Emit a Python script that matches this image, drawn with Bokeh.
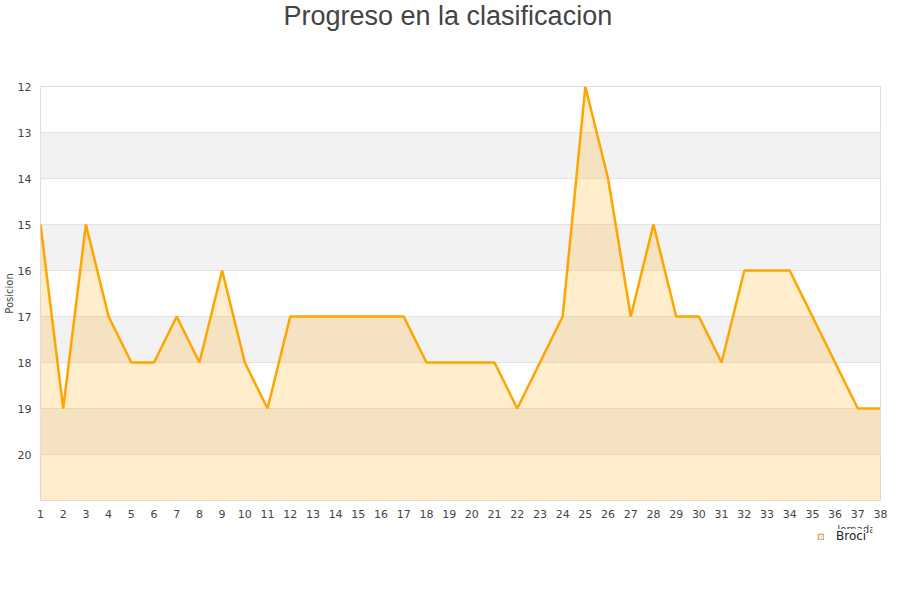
from bokeh.plotting import figure
from bokeh.layouts import column
from bokeh.models import Range1d, FixedTicker, Legend, LegendItem, ColumnDataSource, Title, Label
from bokeh.embed import file_html
from bokeh.resources import INLINE

jornadas = list(range(1, 39))
posicion = [15, 19, 15, 17, 18, 18, 17, 18, 16, 18, 19, 17, 17, 17, 17, 17, 17, 18, 18, 18,
            18, 19, 18, 17, 12, 14, 17, 15, 17, 17, 18, 16, 16, 16, 17, 18, 19, 19]
y_ticks = list(range(12, 21))
band_rows = [13.5, 15.5, 17.5, 19.5]
series_name = "Broci"
title_text = "Progreso en la clasificacion"
y_label = "Posicion"
x_label = "Jornadas"
y_bottom = 21
y_top = 12

p = figure(frame_width=840, frame_height=414, output_backend="svg", toolbar_location=None,
           x_range=Range1d(jornadas[0], jornadas[-1]), y_range=Range1d(y_bottom, y_top),
           min_border_left=32, min_border_right=12, min_border_top=0, min_border_bottom=0)

p.title.text = title_text
p.title.align = "left"
p.title.offset = 243
p.title.text_font = "Liberation Sans"
p.title.text_font_size = "27px"
p.title.text_font_style = "normal"
p.title.text_color = "#444444"
p.title.standoff = 0
p.title.vertical_align = "top"
p.add_layout(Title(text=" ", text_font_size="10px", standoff=41), "above")

p.background_fill_color = "white"
p.border_fill_color = "white"
p.outline_line_color = "#dddddd"

bands = p.hbar(y=band_rows, height=1, left=jornadas[0], right=jornadas[-1],
               fill_color="#f2f2f2", line_color=None)
bands.level = "image"

p.xgrid.grid_line_color = None
p.ygrid.grid_line_color = "#e3e3e3"
p.ygrid.ticker = FixedTicker(ticks=list(range(12, 22)))

src = ColumnDataSource(dict(x=jornadas, y=posicion, y2=[y_bottom] * len(jornadas)))
p.varea(x="x", y1="y", y2="y2", source=src, fill_color="#ffa500", fill_alpha=0.2)
p.line(x="x", y="y", source=src, line_color="#ffa500", line_width=2.5)

for ax in (p.xaxis[0], p.yaxis[0]):
    ax.axis_line_color = None
    ax.major_tick_line_color = None
    ax.minor_tick_line_color = None
    ax.major_tick_out = 0
    ax.major_tick_in = 0
    ax.minor_tick_out = 0
    ax.minor_tick_in = 0
    ax.major_label_text_font = "DejaVu Sans"
    ax.major_label_text_font_size = "11px"
    ax.major_label_text_color = "#444444"

p.xaxis.ticker = FixedTicker(ticks=jornadas)
p.xaxis.major_label_standoff = 9

p.yaxis.ticker = FixedTicker(ticks=y_ticks)
p.yaxis.major_label_standoff = 9
p.yaxis.axis_label = y_label
p.yaxis.axis_label_text_font = "DejaVu Sans"
p.yaxis.axis_label_text_font_size = "10px"
p.yaxis.axis_label_text_font_style = "normal"
p.yaxis.axis_label_text_color = "#444444"
p.yaxis.axis_label_standoff = 0

# legend strip below the chart (its series patch lies outside this strip's ranges)
lf = figure(width=884, height=60, output_backend="svg", toolbar_location=None,
            x_axis_type=None, y_axis_type=None, x_range=Range1d(0, 1), y_range=Range1d(0, 1),
            min_border_left=0, min_border_right=0, min_border_top=0, min_border_bottom=0)
lf.outline_line_color = None
lf.grid.grid_line_color = None
leg_r = lf.patch(x=jornadas, y=posicion, fill_color="#ffa500", fill_alpha=0.25,
                 line_color="#b89a70", line_width=1)

xl = Label(x=840, y=51, x_units="screen", y_units="screen", text=x_label, text_align="right",
           text_baseline="middle", text_font="DejaVu Sans", text_font_size="10px",
           text_color="#444444")
lf.add_layout(xl)

legend = Legend(items=[LegendItem(label=series_name, renderers=[leg_r])],
                location=(777, 37), orientation="horizontal",
                label_text_font="DejaVu Sans", label_text_font_size="12px",
                label_text_color="#222222", glyph_width=7, glyph_height=7,
                label_height=14, padding=0, margin=0, spacing=0, label_standoff=12,
                background_fill_color="white", background_fill_alpha=1.0,
                border_line_color=None)
lf.add_layout(legend)

layout = column(p, lf, spacing=0)
open("out.html", "w").write(file_html(layout, INLINE))
